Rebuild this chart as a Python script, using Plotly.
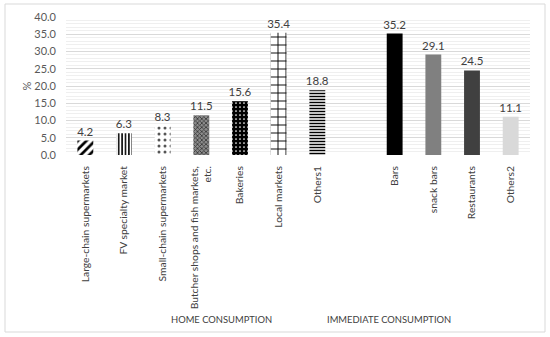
import plotly.graph_objects as go

categories = ["Large-chain supermarkets", "FV specialty market", "Small-chain supermarkets",
              "Butcher shops and fish markets,<br>etc.", "Bakeries", "Local markets", "Others1",
              " ", "Bars", "snack bars", "Restaurants", "Others2"]
values = [4.2, 6.3, 8.3, 11.5, 15.6, 35.4, 18.8, None, 35.2, 29.1, 24.5, 11.1]
group_labels = ["HOME CONSUMPTION", "IMMEDIATE CONSUMPTION"]

colors = ["white", "white", "white", "#8c8c8c", "black", "white", "white", "white",
          "black", "#808080", "#404040", "#d9d9d9"]
pshape = ["/", "|", ".", "x", ".", "+", "-", "", "", "", "", ""]
pfg = ["black", "black", "#555555", "#333333", "white", "black", "black", "black",
       "black", "black", "black", "black"]
psize = [6, 3.4, 6, 3, 4, 8, 3, 8, 8, 8, 8, 8]
psol = [0.45, 0.45, 0.2, 0.45, 0.15, 0.22, 0.5, 0.3, 0.3, 0.3, 0.3, 0.3]

font = "Lato"
fig = go.Figure()
for i, (c, v) in enumerate(zip(categories, values)):
    if v is None:
        fig.add_trace(go.Bar(x=[c], y=[None], width=0.41, hoverinfo="skip"))
        continue
    pat = dict(shape=pshape[i], fgcolor=pfg[i], bgcolor=colors[i], size=psize[i],
               solidity=psol[i], fillmode="replace") if pshape[i] else dict(shape="")
    fig.add_trace(go.Bar(
        x=[c], y=[v], width=0.41,
        marker=dict(color=colors[i], line=dict(width=0), pattern=pat),
        texttemplate="%{y:.1f}", textposition="outside", cliponaxis=False,
        constraintext="none",
        textfont=dict(family=font, size=11.5, color="#404040"),
    ))

W, H = 550, 337
L, R, T, B = 66, 20, 17, 182
pw, ph = W - L - R, H - T - B

def px(x):
    return (x - L) / pw

def py(y):
    return (H - B - y) / ph

fig.add_shape(type="rect", xref="paper", yref="paper",
              x0=px(5), x1=px(545), y0=py(332), y1=py(4),
              line=dict(color="#d9d9d9", width=1), fillcolor="rgba(0,0,0,0)", layer="below")

fig.add_annotation(text=group_labels[0], xref="paper", yref="paper", x=px(221), y=py(319),
                   yanchor="middle", showarrow=False,
                   font=dict(family=font, size=9.4, color="#404040"))
fig.add_annotation(text=group_labels[1], xref="paper", yref="paper", x=px(453), y=py(319),
                   yanchor="middle", showarrow=False,
                   font=dict(family=font, size=9.4, color="#404040"))

fig.update_layout(
    width=W, height=H, margin=dict(l=L, r=R, t=T, b=B, autoexpand=False),
    paper_bgcolor="white", plot_bgcolor="white", showlegend=False, barmode="overlay",
    font=dict(family=font, size=11, color="#595959"),
    xaxis=dict(type="category", categoryorder="array", categoryarray=categories,
               tickangle=-90, showgrid=False, showline=False, ticks="", automargin=False,
               ticklabelstandoff=8,
               tickfont=dict(family=font, size=10.3, color="#404040")),
    yaxis=dict(range=[0, 40], dtick=5, tickformat=".1f", showline=False, ticks="",
               gridcolor="#d9d9d9", gridwidth=1, zeroline=False, automargin=False,
               ticklabelstandoff=9,
               tickfont=dict(family=font, size=11, color="#595959"),
               title=dict(text="%", font=dict(family=font, size=11, color="#595959"), standoff=0),
               minor=dict(dtick=1, showgrid=True, gridcolor="#efefef", gridwidth=1)),
)

fig.write_html("out.html", config={"displayModeBar": False},
               post_script="document.body.style.margin='0';")
